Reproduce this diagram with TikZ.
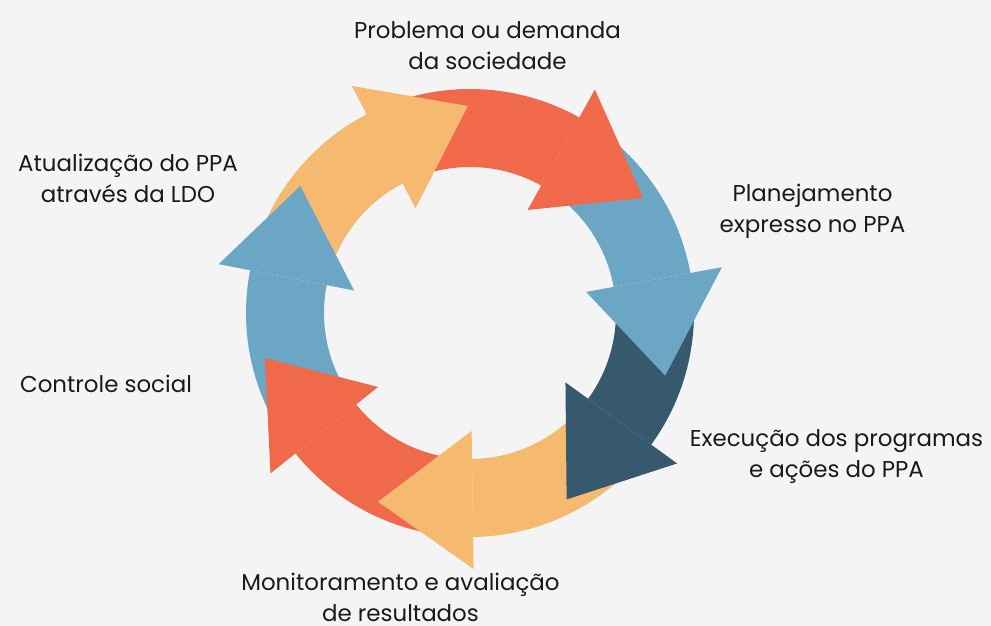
\documentclass[tikz,border=0pt]{standalone}
\usepackage{fontspec}
\setmainfont{Poppins}
\usepackage{tikz}

\definecolor{fundo}{HTML}{F4F4F4}
\definecolor{vermelho}{HTML}{F0694A}
\definecolor{laranja}{HTML}{F5B970}
\definecolor{azulclaro}{HTML}{6BA6C5}
\definecolor{azulescuro}{HTML}{36596E}
\definecolor{texto}{HTML}{1A1A1A}

\begin{document}
\begin{tikzpicture}[x=1bp,y=1bp, rotulo/.style={align=center, anchor=base, inner sep=0pt, text=texto, font=\fontsize{23}{31.5}\selectfont}]
			\fill[fundo] (-470,-313) rectangle (521,313);
			\useasboundingbox (-470,-313) rectangle (521,313);

			% faixas: inicio/base da ponta/cor
			\foreach \t/\b/\c in {112.5/60.8/vermelho, 55.8/10.3/azulclaro, 5.3/-36/azulescuro, -41/-89.2/laranja, -94.2/-141.2/vermelho, 213.8/169/azulclaro, 164/117.5/laranja}
				\fill[\c] (\t:224) arc[start angle=\t, end angle=\b, radius=224] -- (\b:146) arc[start angle=\b, end angle=\t, radius=146] -- cycle;

			% pontas: base/ponta/raio da ponta/cor
			\foreach \b/\p/\r/\c in {60.8/33.6/208/vermelho, 10.3/-17.8/205/azulclaro, -36/-62.6/210/azulescuro, -89.2/-116/210/laranja, -141.2/-167.6/210/vermelho, 169/143.2/212/azulclaro, 117.5/90.6/207/laranja}
				\fill[\c] (\b:118) -- (\b:256) -- (\p:\r) -- cycle;

			% rotulos (ancora na linha de base da ultima linha)
			\node[rotulo] (prob) at (17.5,243) {Problema ou demanda\\da sociedade};
			\node[rotulo] (plan) at (342.5,80) {Planejamento\\expresso no PPA};
			\node[rotulo] (exec) at (366.5,-165) {Execução dos programas\\e ações do PPA};
			\node[rotulo] (monit) at (-69.5,-309) {Monitoramento e avaliação\\de resultados};
			\node[rotulo] (controle) at (-364,-80) {Controle social};
			\node[rotulo] (atual) at (-342,110) {Atualização do PPA\\através da LDO};
		\end{tikzpicture}
\end{document}
